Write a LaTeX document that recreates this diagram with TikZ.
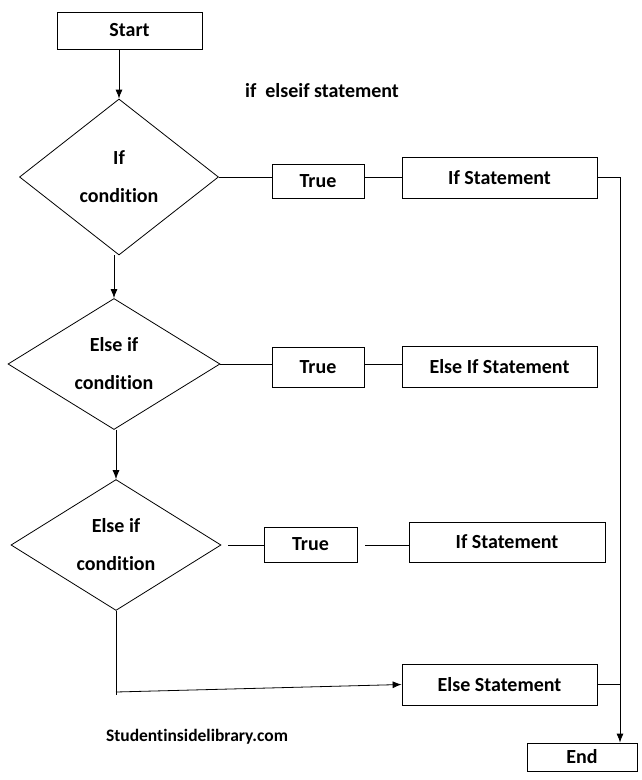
\documentclass[tikz,border=0pt]{standalone}
\usepackage{fontspec}
\setmainfont{Carlito}[Ligatures=NoCommon]
\usetikzlibrary{shapes.geometric,arrows.meta}
\begin{document}
\begin{tikzpicture}[x=1pt,y=-1pt,line width=.8pt,
                     ar/.style={-{Latex[length=9pt,width=7pt]}},
                     bx/.style={draw,inner sep=0pt,font=\bfseries\fontsize{20}{24}\selectfont},
                     dm/.style={draw,diamond,inner sep=0pt,align=center,font=\bfseries\fontsize{20}{38}\selectfont}]
                     \useasboundingbox (0,0) rectangle (642,780);
                     \node[bx,minimum width=145pt,minimum height=37pt] (s)  at (129.5,30.5) {Start};
                     \node[font=\bfseries\fontsize{20}{24}\selectfont] (tt) at (322,91) {if\ \ elseif statement};
                     \node[dm,minimum width=199pt,minimum height=156pt] (d1) at (119,177) {If\\condition};
                     \node[dm,minimum width=212pt,minimum height=131pt] (d2) at (114,364) {Else if\\condition};
                     \node[dm,minimum width=210pt,minimum height=130pt] (d3) at (116,545) {Else if\\condition};
                     \node[bx,minimum width=92pt,minimum height=34pt]  (t1) at (318,181) {True};
                     \node[bx,minimum width=92pt,minimum height=40pt]  (t2) at (318,367) {True};
                     \node[bx,minimum width=93pt,minimum height=35pt]  (t3) at (310.5,544.5) {True};
                     \node[bx,minimum width=195pt,minimum height=41pt] (s1) at (499.5,177.5) {If Statement};
                     \node[bx,minimum width=195pt,minimum height=41pt] (s2) at (499.5,366.5) {Else If Statement};
                     \node[bx,minimum width=196pt,minimum height=40pt] (s3) at (507,542) {If Statement};
                     \node[bx,minimum width=195pt,minimum height=41pt] (el) at (499.5,684.5) {Else Statement};
                     \node[bx,minimum width=110pt,minimum height=28pt] (e)  at (582,757) {End};
                     \node[font=\bfseries\fontsize{17.5}{20}\selectfont] (wm) at (197,737) {Studentinsidelibrary.com};
                     \coordinate (r)  at (620,177);
                     \coordinate (c1) at (116,695);
                     \coordinate (c2) at (116,692);
                     % down the left side
                     \draw[ar] (d1.north |- s.south) -- (d1.north);
                     \draw[ar] (d2.north |- d1.south) -- (d2.north);
                     \draw[ar] (d3.north |- d2.south) -- (d3.north);
                     \draw (d3.south) -- (c1);
                     \draw[ar] (c2) -- (el.west);
                     % true branches
                     \draw (d1.east) -- (d1.east -| t1.west);
                     \draw (t1.east |- s1.west) -- (s1.west);
                     \draw (d2.east) -- (d2.east -| t2.west);
                     \draw (t2.east |- d2.east) -- (d2.east -| s2.west);
                     \draw ([xshift=7pt]d3.east) -- (d3.east -| t3.west);
                     \draw ([xshift=8pt]t3.east |- d3.east) -- (d3.east -| s3.west);
                     % to the end
                     \draw[ar] (s1.east) -| (r |- e.north);
                     \draw (el.east) -- (el.east -| r);
                 \end{tikzpicture}
\end{document}
